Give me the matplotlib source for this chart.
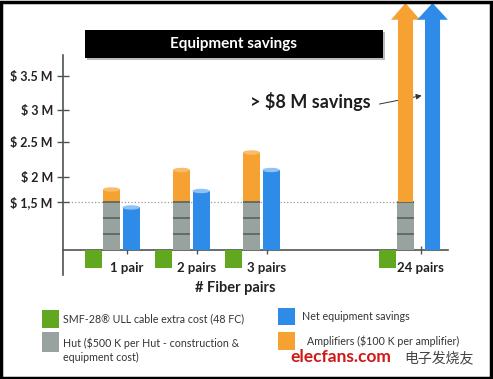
import numpy as np
import matplotlib.pyplot as plt
from matplotlib.patches import Rectangle, Ellipse

plt.rcParams['font.family'] = ['Lato', 'Noto Sans CJK SC', 'DejaVu Sans']

# data ($ M)
groups = ['1 pair', '2 pairs', '3 pairs', '24 pairs']
cable = [-0.57, -0.57, -0.57, -0.57]     # SMF-28 ULL extra cost
huts = [3, 3, 3, 3]                       # number of huts, $0.5 M each
hut_cost = 0.5
amps = [0.25, 0.6, 0.85, 6.8]             # amplifiers
net = [1.33, 1.72, 2.1, 8.3]              # net equipment savings
ytick_vals = [1.5, 2, 2.5, 3, 3.5]
ytick_labels = ['$ 1,5 M', '$ 2 M', '$ 2.5 M', '$ 3 M', '$ 3.5 M']

# the original axis is schematic, not linear
scale_v = [-2, 0, 1.5, 2, 2.5, 3, 3.5, 8.5]
scale_p = [-64, 0, 48, 73, 108, 140, 174, 250]
fwd = lambda y: np.interp(y, scale_v, scale_p)
inv = lambda p: np.interp(p, scale_p, scale_v)

green = '#62a720'
gray = '#98a29f'
orange = '#f6a232'
blue = '#2f8be8'

fig = plt.figure(figsize=(4.93, 3.79), dpi=100)
ax = fig.add_axes([62.5 / 493, 104 / 379, 385.5 / 493, 275 / 379])
ax.set_yscale('function', functions=(fwd, inv))
ax.set_xlim(-0.7, 4.807)
ax.set_ylim(inv(-25), 8.5)

pos = [0, 1, 2, 4.2]
w = 0.245

ax.plot([-0.62, 4.32], [1.5, 1.5], ls=':', color='#999999', lw=0.9, zorder=1)

for i, x in enumerate(pos):
    ax.bar(x - 0.26, cable[i], w, color=green, zorder=3)
    top_h = huts[i] * hut_cost
    ax.bar(x, top_h, w, color=gray, zorder=3)
    ax.hlines([k * hut_cost for k in range(1, huts[i] + 1)], x - w / 2, x + w / 2,
              color='#5a605e', lw=1.2, zorder=4)
    if i < 3:
        ax.bar(x, amps[i], w, bottom=top_h, color=orange, zorder=3)
        ax.bar(x + 0.28, net[i], w, color=blue, zorder=3)
        for xc, yt, c in [(x, top_h + amps[i], '#f9bd6a'), (x + 0.28, net[i], '#8fc3f6')]:
            hgt = inv(fwd(yt) + 2.2) - inv(fwd(yt) - 2.2)
            ax.add_patch(Ellipse((xc, yt), w, hgt, fc=c, ec='none', zorder=5))
    else:
        ax.arrow(x, top_h, 0, amps[i], width=0.215, head_width=0.415,
                 head_length=1.1, length_includes_head=True,
                 fc=orange, ec='none', zorder=5)
        ax.arrow(x + 0.386, 0, 0, net[i], width=0.215, head_width=0.44,
                 head_length=1.1, length_includes_head=True,
                 fc=blue, ec='none', zorder=5)

ax.annotate('', xy=(4.47, 3.22), xytext=(3.79, 3.08),
            arrowprops=dict(arrowstyle='-|>', color='#333333', lw=0.7,
                            mutation_scale=8), zorder=2)
ax.text(3.7, 3.12, '> $8 M savings', fontsize=13, fontweight='bold',
        color='#1e1e1e', ha='right', va='center')

# axes styling
for s in ['top', 'right']:
    ax.spines[s].set_visible(False)
ax.spines['bottom'].set_position(('data', 0))
ax.spines['left'].set_bounds(inv(-25), inv(195))
for s in ['left', 'bottom']:
    ax.spines[s].set_color('#4d5453')
    ax.spines[s].set_linewidth(1.2)
ax.set_yticks(ytick_vals)
ax.set_yticklabels(ytick_labels, fontsize=9, fontweight='bold', color='#222222')
ax.tick_params(axis='y', direction='inout', length=8, width=1, color='#4d5453', pad=3)
ax.set_xticks([p + 0.22 for p in pos])
ax.set_xticklabels(groups, fontsize=9.5, fontweight='bold', color='#222222')
ax.tick_params(axis='x', direction='inout', length=6, width=1, color='#4d5453', pad=6)
ax.patch.set_alpha(0)

# title box
fig.patches.append(Rectangle((87 / 493, 1 - 60 / 379), 298 / 493, 28 / 379,
                             transform=fig.transFigure, fc='#bbbbbb', ec='none', zorder=0))
fig.patches.append(Rectangle((85 / 493, 1 - 58 / 379), 298 / 493, 28 / 379,
                             transform=fig.transFigure, fc='black', ec='none', zorder=1))
fig.text(234 / 493, 1 - 44 / 379, 'Equipment savings', color='white', fontsize=11,
         fontweight='bold', ha='center', va='center')

fig.text(235 / 493, 1 - 288 / 379, '# Fiber pairs', fontsize=10.5, fontweight='bold',
         color='#222222', ha='center', va='center')

# legend
leg = [(42, 310, 18, green, 63, 319, 'SMF-28\u00ae ULL cable extra cost (48 FC)'),
       (42, 332, 20, gray, 63, 350, 'Hut ($500 K per Hut - construction &\nequipment cost)'),
       (278, 308, 17, blue, 302, 316, 'Net equipment savings'),
       (278, 332, 18, orange, 307, 341, 'Amplifiers ($100 K per amplifier)')]
for lx, ly, lh, c, tx, ty, t in leg:
    fig.patches.append(Rectangle((lx / 493, 1 - (ly + lh) / 379), 17 / 493, lh / 379,
                                 transform=fig.transFigure, fc=c, ec='none'))
    fig.text(tx / 493, 1 - ty / 379, t, fontsize=7.7, color='#333333',
             ha='left', va='center', linespacing=1.3)

# watermark
fig.text(290 / 493, 1 - 357 / 379, 'elecfans.com', fontsize=12.5, fontweight='bold',
         color='#d01818', ha='left', va='center')
fig.text(404 / 493, 1 - 358 / 379, '电子发烧友', fontsize=10, color='#444444',
         ha='left', va='center')

# outer frame
fig.patches.append(Rectangle((0.002, 0.003), 0.994, 0.993, transform=fig.transFigure,
                             fill=False, ec='black', lw=2.5))

fig.savefig('out.png', dpi=100)
